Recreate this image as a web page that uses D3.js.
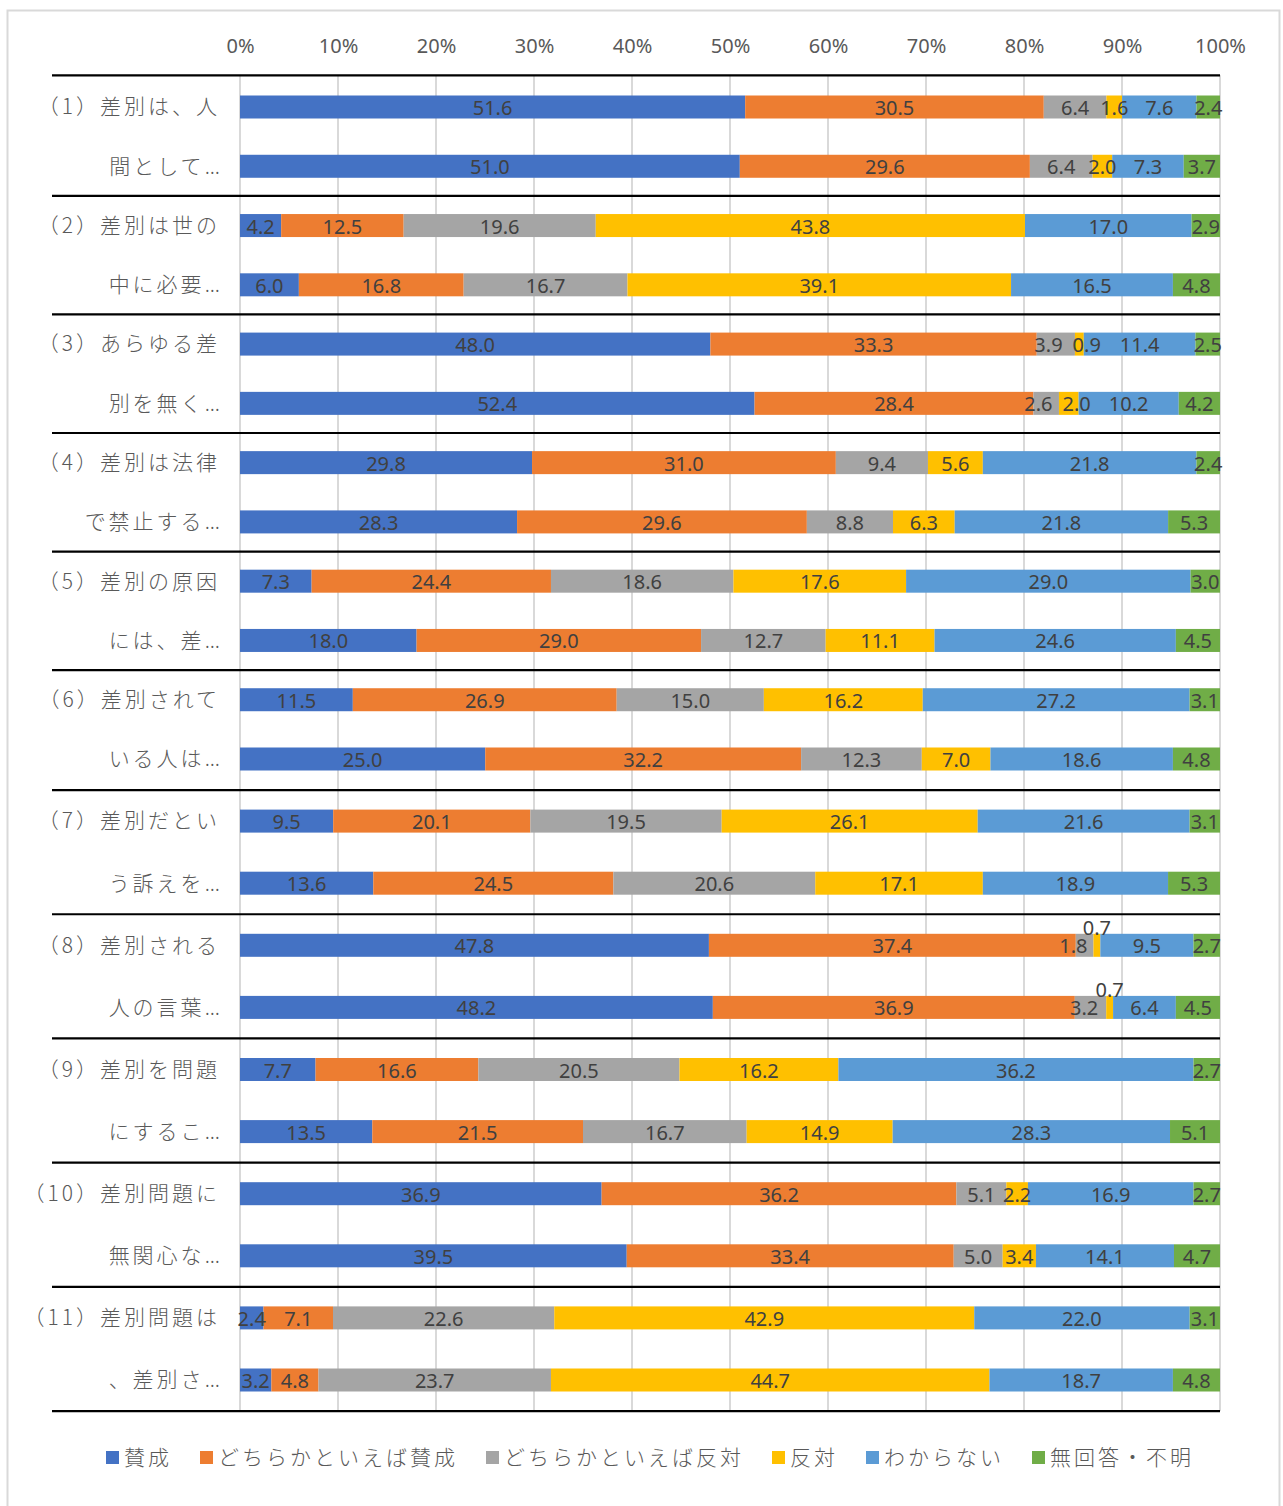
<!DOCTYPE html>
<html lang="ja">
<head>
<meta charset="UTF-8">
<title>差別に関する意識</title>
<script src="https://cdn.jsdelivr.net/npm/d3@7"></script>
<style>
  body { margin: 0; background: #fff; }
  svg text { fill: #595959; }
  .cat text, .legend text { font-family: "Noto Sans CJK JP", "Noto Sans", sans-serif; font-size: 21px; letter-spacing: 3px; font-weight: 300; }
  .cat tspan.dots { font-family: "Noto Sans", sans-serif; letter-spacing: 0; }
  .tick text { font-family: "Noto Sans", sans-serif; font-size: 20px; }
  .lbl { font-family: "Noto Sans", sans-serif; font-size: 20px; fill: #404040; }
</style>
</head>
<body>
<div id="chart"></div>
<script>
// category labels (each item wraps onto two lines, one per bar)
const categories = [
  ["（1）差別は、人", "間として…"],
  ["（2）差別は世の", "中に必要…"],
  ["（3）あらゆる差", "別を無く…"],
  ["（4）差別は法律", "で禁止する…"],
  ["（5）差別の原因", "には、差…"],
  ["（6）差別されて", "いる人は…"],
  ["（7）差別だとい", "う訴えを…"],
  ["（8）差別される", "人の言葉…"],
  ["（9）差別を問題", "にするこ…"],
  ["（10）差別問題に", "無関心な…"],
  ["（11）差別問題は", "、差別さ…"]
];

const seriesNames = ["賛成", "どちらかといえば賛成", "どちらかといえば反対", "反対", "わからない", "無回答・不明"];
const seriesColors = ["#4472C4", "#ED7D31", "#A5A5A5", "#FFC000", "#5B9BD5", "#70AD47"];

// one value per bar, two bars per item
const agree          = [51.6, 51.0, 4.2, 6.0, 48.0, 52.4, 29.8, 28.3, 7.3, 18.0, 11.5, 25.0, 9.5, 13.6, 47.8, 48.2, 7.7, 13.5, 36.9, 39.5, 2.4, 3.2];
const ratherAgree    = [30.5, 29.6, 12.5, 16.8, 33.3, 28.4, 31.0, 29.6, 24.4, 29.0, 26.9, 32.2, 20.1, 24.5, 37.4, 36.9, 16.6, 21.5, 36.2, 33.4, 7.1, 4.8];
const ratherDisagree = [6.4, 6.4, 19.6, 16.7, 3.9, 2.6, 9.4, 8.8, 18.6, 12.7, 15.0, 12.3, 19.5, 20.6, 1.8, 3.2, 20.5, 16.7, 5.1, 5.0, 22.6, 23.7];
const disagree       = [1.6, 2.0, 43.8, 39.1, 0.9, 2.0, 5.6, 6.3, 17.6, 11.1, 16.2, 7.0, 26.1, 17.1, 0.7, 0.7, 16.2, 14.9, 2.2, 3.4, 42.9, 44.7];
const dontKnow       = [7.6, 7.3, 17.0, 16.5, 11.4, 10.2, 21.8, 21.8, 29.0, 24.6, 27.2, 18.6, 21.6, 18.9, 9.5, 6.4, 36.2, 28.3, 16.9, 14.1, 22.0, 18.7];
const noAnswer       = [2.4, 3.7, 2.9, 4.8, 2.5, 4.2, 2.4, 5.3, 3.0, 4.5, 3.1, 4.8, 3.1, 5.3, 2.7, 4.5, 2.7, 5.1, 2.7, 4.7, 3.1, 4.8];

const tickValues = [0, 10, 20, 30, 40, 50, 60, 70, 80, 90, 100];

// labels that were dragged above the bar in the original (bar index, series index)
const liftedLabels = [[14, 3], [15, 3]];

const series = [agree, ratherAgree, ratherDisagree, disagree, dontKnow, noAnswer];
const nBars = agree.length;

const W = 1283, H = 1506;
const svg = d3.select("#chart").append("svg").attr("width", W).attr("height", H);

// outer frame
svg.append("rect")
  .attr("x", 7.5).attr("y", 10.5).attr("width", 1272).attr("height", 1500)
  .attr("fill", "none").attr("stroke", "#d9d9d9").attr("stroke-width", 2);

const x = d3.scaleLinear().domain([0, 100]).range([240, 1220]);
// bar centre positions (groups in the lower half sit slightly further apart)
const y = d3.scaleLinear().domain([0, 11, 21]).range([107, 759, 1380]);
const barH = 23;

// grid
const yTop = y(-0.5) - 2, yBot = y(nBars - 0.5);
svg.append("g").selectAll("line").data(tickValues).join("line")
  .attr("x1", d => x(d)).attr("x2", d => x(d))
  .attr("y1", yTop).attr("y2", yBot)
  .attr("stroke", "#d9d9d9").attr("stroke-width", 2);

// top axis
const axis = svg.append("g").attr("transform", "translate(0,46)")
  .call(d3.axisTop(x).tickValues(tickValues).tickFormat(d => d + "%").tickSize(0));
axis.select(".domain").remove();
axis.selectAll(".tick text").attr("dy", "0.35em").attr("y", 0);

// stacked segments (100% stacked, so each bar is normalised by its own sum)
const rows = d3.range(nBars).map(i => {
  const vals = series.map(s => s[i]);
  const sum = d3.sum(vals);
  let acc = 0;
  return vals.map((v, k) => {
    const seg = { bar: i, k, v, x0: acc / sum * 100, x1: (acc + v) / sum * 100 };
    acc += v;
    return seg;
  });
});
const segs = rows.flat();

svg.append("g").selectAll("rect").data(segs).join("rect")
  .attr("x", d => x(d.x0))
  .attr("width", d => x(d.x1) - x(d.x0))
  .attr("y", d => y(d.bar) - barH / 2)
  .attr("height", barH)
  .attr("fill", d => seriesColors[d.k]);

const isLifted = d => liftedLabels.some(([b, k]) => b === d.bar && k === d.k);
const labels = svg.append("g").selectAll("text").data(segs).join("text")
  .attr("class", "lbl")
  .attr("text-anchor", "middle")
  .attr("x", d => x((d.x0 + d.x1) / 2))
  .attr("y", d => y(d.bar) + (isLifted(d) ? -17 : 1))
  .attr("dy", "0.35em")
  .text(d => d.v.toFixed(1));

// nudge crowded labels apart, the way the spreadsheet did
labels.each(function (d) { d.cx = x((d.x0 + d.x1) / 2); d.w = this.getComputedTextLength(); });
rows.forEach(row => {
  for (let k = 0; k < row.length - 1; k++) {
    const a = row[k], b = row[k + 1];
    const la = isLifted(a), lb = isLifted(b);
    if (la && lb) continue;
    const overlap = (a.cx + a.w / 2) - (b.cx - b.w / 2);
    if (lb) { if (overlap > 0) a.cx -= overlap * 0.7; }
    else if (la) { if (overlap > 0) b.cx += overlap * 0.7; }
    else if (overlap + 10 > 0 && a.w > 0) {
      const need = overlap + 10;
      if (overlap > -2) { a.cx -= need / 2; b.cx += need / 2; }
    }
  }
});
labels.attr("x", d => d.cx);

// group separators
const sepY = d => d === 0 ? y(-0.5) - 2 : y(d * 2 - 0.5);
svg.append("g").selectAll("line").data(d3.range(categories.length + 1)).join("line")
  .attr("x1", 52).attr("x2", x(100))
  .attr("y1", sepY).attr("y2", sepY)
  .attr("stroke", "#000").attr("stroke-width", 2.2);

// category labels
const cat = svg.append("g").attr("class", "cat");
categories.forEach((lines, g) => {
  lines.forEach((t, j) => {
    const txt = cat.append("text")
      .attr("x", 220).attr("y", y(g * 2 + j))
      .attr("dy", "0.35em")
      .attr("text-anchor", "end");
    if (t.endsWith("…")) {
      txt.append("tspan").text(t.slice(0, -1));
      txt.append("tspan").attr("class", "dots").text("...");
    } else {
      txt.text(t);
    }
  });
});

// legend
const legend = svg.append("g").attr("class", "legend").attr("transform", "translate(0,1458)");
let lx = 106;
seriesNames.forEach((name, k) => {
  legend.append("rect").attr("x", lx).attr("y", -7).attr("width", 13).attr("height", 13).attr("fill", seriesColors[k]);
  const t = legend.append("text").attr("x", lx + 18).attr("dy", "0.35em").text(name);
  lx += 18 + t.node().getComputedTextLength() + 28;
});
</script>
</body>
</html>
